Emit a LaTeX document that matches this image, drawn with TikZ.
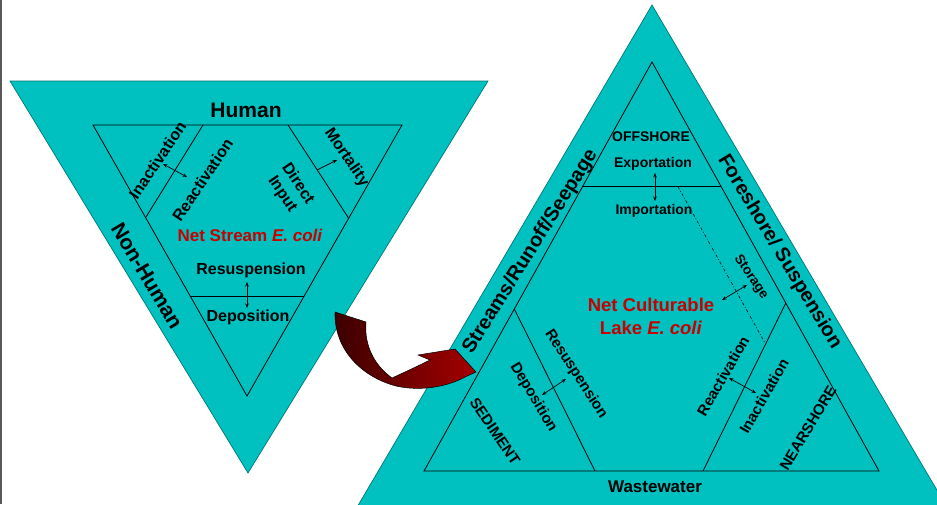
\documentclass[tikz,border=0pt]{standalone}
\usepackage{fontspec}
\setmainfont{Liberation Sans}
\usetikzlibrary{arrows.meta}
\definecolor{tealfill}{RGB}{0,192,192}
\definecolor{tealedge}{RGB}{0,120,120}
\definecolor{netred}{RGB}{200,0,0}
\definecolor{arrdark}{RGB}{60,0,0}
\definecolor{arrred}{RGB}{165,0,0}
\begin{document}
\begin{tikzpicture}[x=1pt,y=-1pt,inner sep=0pt,
  biglbl/.style={font=\bfseries\fontsize{21}{23}\selectfont},
  sidelbl/.style={font=\bfseries\fontsize{20}{22}\selectfont},
  leftlbl/.style={font=\bfseries\fontsize{16}{18.5}\selectfont},
  rightlbl/.style={font=\bfseries\fontsize{15}{17}\selectfont},
  toplbl/.style={font=\bfseries\fontsize{14}{16}\selectfont},
  netlbl/.style={text=netred,font=\bfseries\fontsize{17}{19}\selectfont},
  lakelbl/.style={text=netred,font=\bfseries\fontsize{18.5}{23}\selectfont,align=center},
  tri/.style={fill=tealfill,draw=tealedge,line width=0.7pt},
  divider/.style={draw=black,line width=0.8pt},
  dbl/.style={{Stealth[length=4.5pt,width=3.5pt]}-{Stealth[length=4.5pt,width=3.5pt]},line width=0.7pt},
  sgl/.style={-{Stealth[length=4.5pt,width=3.5pt]},line width=0.7pt}]
\useasboundingbox (0,0) rectangle (937,504);
\fill[white] (0,0) rectangle (937,504);
\draw[gray!70!black,line width=1.6pt] (0.8,0) -- (0.8,504);
\begin{scope}
\clip (0,0) rectangle (937,504);
% ---------- left triangle ----------
\path[tri] (10,81) -- (488,81) -- (248,473) -- cycle;
\path[divider] (93,125) -- (402,125) -- (247,396) -- cycle;
\path[divider] (203,125) -- (146,217);
\path[divider] (288,125) -- (348.5,218);
\path[divider] (190,296) -- (304,296);
% ---------- right triangle ----------
\path[tri] (652,5) -- (978,560) -- (326,560) -- cycle;
\path[divider] (652,62) -- (879,471) -- (424,471) -- cycle;
\path[divider] (582.5,186.7) -- (721,186.7);
\path[divider] (514.3,309) -- (595,471);
\path[divider] (785.8,303) -- (703,471);
\coordinate (dd1) at (678,186.7);
\coordinate (dd2) at (765,343);
\draw[line width=0.6pt,dash pattern=on 3pt off 2pt on 0.8pt off 2pt] (dd1) -- (dd2);
% ---------- red curved arrow ----------
\shade[left color=arrdark,right color=arrred,draw=black,line width=0.5pt]
  (335,312) -- (366,322)
  .. controls (364,345) and (374,365) .. (392,378)
  .. controls (405,372) and (418,366) .. (430,360)
  -- (418,355) -- (455,349) -- (476,372) -- (465,377)
  .. controls (445,388) and (418,391) .. (396,386)
  .. controls (362,377) and (334,350) .. (335,312) -- cycle;
\end{scope}
% ---------- left labels ----------
\node[biglbl] (human) at (246,110) {Human};
\node[biglbl,rotate=-59] (nonhuman) at (147,276) {Non-Human};
\node[leftlbl,rotate=56] (inact1) at (157.5,160) {Inactivation};
\node[leftlbl,rotate=56] (react1) at (202.5,180) {Reactivation};
\node[leftlbl,rotate=-56,align=center] (direct) at (290,189) {Direct\\Input};
\node[leftlbl,rotate=-56] (mort) at (346.5,157.5) {Mortality};
\node[netlbl] (net1) at (250,235) {Net Stream \textit{E. coli}};
\node[leftlbl] (resus1) at (251,270) {Resuspension};
\node[leftlbl] (depo1) at (248,317) {Deposition};
\coordinate (ia1) at (163,164);
\coordinate (ia2) at (187,177);
\draw[dbl] (ia1) -- (ia2);
\coordinate (ma1) at (317,170);
\coordinate (ma2) at (337,160);
\draw[sgl] (ma1) -- (ma2);
\coordinate (ra1) at (247,282);
\coordinate (ra2) at (247,308);
\draw[dbl] (ra1) -- (ra2);
% ---------- right labels ----------
\node[sidelbl,rotate=58] (streams) at (530.5,251.5) {Streams/Runoff/Seepage};
\node[sidelbl,rotate=-59] (fore) at (779.5,252) {Foreshore/ Suspension};
\node[toplbl] (off) at (651,137) {OFFSHORE};
\node[toplbl] (exp) at (653,164) {Exportation};
\node[toplbl] (imp) at (654,211) {Importation};
\coordinate (ea1) at (655,173);
\coordinate (ea2) at (655,201);
\draw[dbl] (ea1) -- (ea2);
\node[lakelbl] (net2) at (651,316) {Net Culturable\\Lake \textit{E. coli}};
\node[font=\bfseries\fontsize{13.5}{15}\selectfont,rotate=-56] (stor) at (751,277) {Storage};
\coordinate (sa1) at (722,300);
\coordinate (sa2) at (747,285);
\draw[dbl] (sa1) -- (sa2);
\node[rightlbl,rotate=-57] (resus2) at (576,374) {Resuspension};
\node[rightlbl,rotate=-59] (depo2) at (533.5,397.5) {Deposition};
\node[rightlbl,rotate=-56] (sed) at (495,431.5) {SEDIMENT};
\coordinate (da1) at (542,395);
\coordinate (da2) at (566,379);
\draw[dbl] (da1) -- (da2);
\node[rightlbl,rotate=60] (react2) at (723,376) {Reactivation};
\node[rightlbl,rotate=60] (inact2) at (764,396) {Inactivation};
\coordinate (na1) at (729,378);
\coordinate (na2) at (756,393);
\draw[dbl] (na1) -- (na2);
\node[rightlbl,rotate=59] (near) at (808,428) {NEARSHORE};
\node[font=\bfseries\fontsize{17}{19}\selectfont] (waste) at (655,487) {Wastewater};
\end{tikzpicture}
\end{document}
